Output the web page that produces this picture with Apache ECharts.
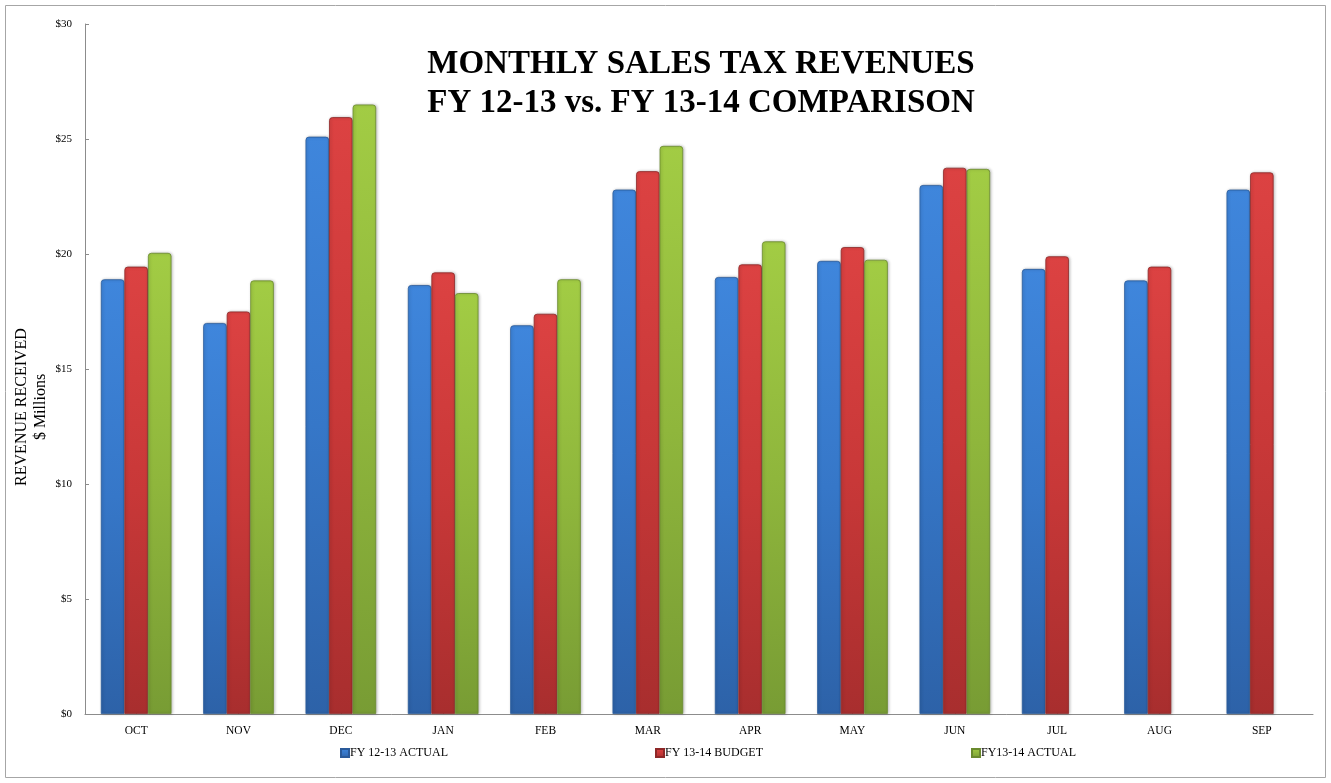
<!DOCTYPE html>
<html>
<head>
<meta charset="utf-8">
<script src="https://cdn.jsdelivr.net/npm/echarts@6/dist/echarts.min.js"></script>
<style>
html,body{margin:0;padding:0;background:#fff;}
#chart{width:1331px;height:783px;}
</style>
</head>
<body>
<div id="chart"></div>
<script>
const categories = ['OCT','NOV','DEC','JAN','FEB','MAR','APR','MAY','JUN','JUL','AUG','SEP'];
const fy1213Actual = [18.9, 17.0, 25.1, 18.65, 16.9, 22.8, 19.0, 19.7, 23.0, 19.35, 18.85, 22.8];
const fy1314Budget = [19.45, 17.5, 25.95, 19.2, 17.4, 23.6, 19.55, 20.3, 23.75, 19.9, 19.45, 23.55];
const fy1314Actual = [20.05, 18.85, 26.5, 18.3, 18.9, 24.7, 20.55, 19.75, 23.7, null, null, null];
const seriesNames = ['FY 12-13 ACTUAL', 'FY 13-14 BUDGET', 'FY13-14 ACTUAL'];
const yTicks = [0, 5, 10, 15, 20, 25, 30];

const FONT = '"Liberation Serif", "Times New Roman", serif';

function grad(light, mid, dark) {
  return new echarts.graphic.LinearGradient(0, 0, 0, 1, [
    {offset: 0, color: light},
    {offset: 0.5, color: mid},
    {offset: 1, color: dark}
  ]);
}

const styles = [
  {fill: grad('#3f86dc', '#3677c8', '#2d62a8'), border: '#2a5a9a'},
  {fill: grad('#dc4242', '#c83838', '#a82e2e'), border: '#8e2828'},
  {fill: grad('#a2cc44', '#8fb63c', '#789c34'), border: '#6a8a2e'}
];
const dataArr = [fy1213Actual, fy1314Budget, fy1314Actual];

const chart = echarts.init(document.getElementById('chart'));
const legendLefts = [340, 655, 971];

chart.setOption({
  backgroundColor: '#ffffff',
  animation: false,
  title: {
    text: 'MONTHLY SALES TAX REVENUES\nFY 12-13 vs. FY 13-14 COMPARISON',
    left: 701,
    textAlign: 'center',
    top: 45,
    padding: 0,
    textStyle: {fontFamily: FONT, fontWeight: 'bold', fontSize: 33, lineHeight: 39, color: '#000'}
  },
  legend: seriesNames.map((n, i) => ({
    data: [n],
    left: legendLefts[i],
    top: 747,
    padding: 0,
    itemWidth: 8,
    itemHeight: 8,
    icon: 'rect',
    itemGap: 0,
    textStyle: {fontFamily: FONT, fontSize: 12, color: '#000', padding: [0, 0, 0, -4]}
  })),
  grid: {left: 85, right: 18, top: 24, bottom: 69, containLabel: false, outerBoundsMode: 'none'},
  xAxis: {
    type: 'category',
    data: categories,
    axisLine: {lineStyle: {color: '#8c8c8c', width: 1}},
    axisTick: {show: true, alignWithLabel: true, inside: true, length: 4, lineStyle: {color: '#b0b0b0'}},
    axisLabel: {fontFamily: FONT, fontSize: 11.5, color: '#000', margin: 11}
  },
  yAxis: {
    type: 'value',
    min: yTicks[0],
    max: yTicks[yTicks.length - 1],
    interval: 5,
    splitLine: {show: false},
    axisLine: {show: true, lineStyle: {color: '#8c8c8c', width: 1}},
    axisTick: {show: true, inside: true, length: 4, lineStyle: {color: '#8c8c8c'}},
    axisLabel: {fontFamily: FONT, fontSize: 11, color: '#000', margin: 13,
      formatter: v => '$' + v}
  },
  graphic: [{
    type: 'rect',
    shape: {x: 5.5, y: 5.5, width: 1320, height: 772},
    style: {fill: 'none', stroke: '#a6a6a6', lineWidth: 1},
    silent: true,
    z: -1
  }, {
    type: 'text',
    x: 31,
    y: 407,
    rotation: Math.PI / 2,
    style: {
      text: 'REVENUE RECEIVED\n$ Millions',
      font: '16px ' + FONT,
      fill: '#000',
      align: 'center',
      verticalAlign: 'middle',
      lineHeight: 19
    },
    silent: true
  }],
  series: seriesNames.map((n, i) => ({
    name: n,
    type: 'bar',
    data: dataArr[i],
    barGap: '0%',
    barCategoryGap: '31%',
    itemStyle: {
      color: styles[i].fill,
      borderColor: styles[i].border,
      borderWidth: 0.8,
      borderRadius: [3, 3, 0, 0],
      shadowColor: 'rgba(0,0,0,0.25)',
      shadowBlur: 3,
      shadowOffsetX: 1
    }
  }))
});
</script>
</body>
</html>
